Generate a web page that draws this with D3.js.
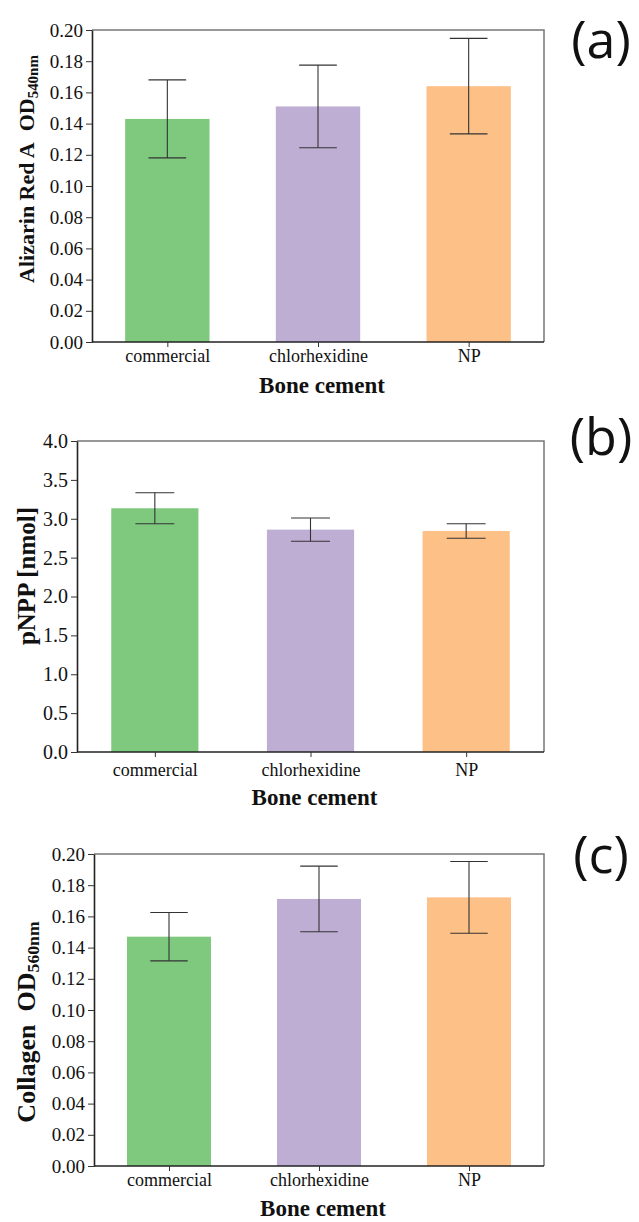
<!DOCTYPE html>
<html>
<head>
<meta charset="utf-8">
<script src="https://cdn.jsdelivr.net/npm/d3@7"></script>
<style>
  body { margin: 0; background: #fff; }
  svg { display: block; }
  .tick text { font-family: "Liberation Serif", "Times New Roman", serif; fill: #111; }
</style>
</head>
<body>
<div id="chart"></div>
<script>
const categories = ["commercial", "chlorhexidine", "NP"];

// (a) Alizarin Red A, OD540nm
const alizarinMean = [0.143, 0.151, 0.164];
const alizarinErr = [0.025, 0.0265, 0.0306];
const alizarinTicks = [0, 0.02, 0.04, 0.06, 0.08, 0.10, 0.12, 0.14, 0.16, 0.18, 0.20];

// (b) pNPP [nmol]
const pnppMean = [3.135, 2.86, 2.843];
const pnppErr = [0.2, 0.15, 0.093];
const pnppTicks = [0, 0.5, 1.0, 1.5, 2.0, 2.5, 3.0, 3.5, 4.0];

// (c) Collagen, OD560nm
const collagenMean = [0.147, 0.1712, 0.1722];
const collagenErr = [0.0155, 0.021, 0.023];
const collagenTicks = alizarinTicks;

const barColors = d3.schemeAccent.slice(0, 3);

const WIDTH = 639, HEIGHT = 1222;
const SERIF = '"Liberation Serif", "Times New Roman", serif';

const svg = d3.select("#chart").append("svg")
    .attr("width", WIDTH)
    .attr("height", HEIGHT);

const drawPanel = (p) => {
    const g = svg.append("g").attr("class", "panel");

    const x = d3.scalePoint()
        .domain(categories)
        .range([p.left, p.right])
        .padding(0.5);
    const step = x.step();
    const barW = step * 0.56;
    const capW = step * 0.25;

    const y = d3.scaleLinear()
        .domain([0, p.yMax])
        .range([p.bottom, p.top]);

    const rows = categories.map((c, i) => ({cat: c, mean: p.mean[i], err: p.err[i], color: barColors[i]}));

    // bars
    g.selectAll("rect.bar").data(rows).enter()
        .append("rect")
        .attr("class", "bar")
        .attr("x", d => x(d.cat) - barW / 2)
        .attr("width", barW)
        .attr("y", d => y(d.mean))
        .attr("height", d => y(0) - y(d.mean))
        .attr("fill", d => d.color);

    // error bars
    const eb = g.selectAll("g.err").data(rows).enter()
        .append("g")
        .attr("class", "err")
        .attr("stroke", "#333")
        .attr("stroke-width", 1.1);
    eb.append("line")
        .attr("x1", d => x(d.cat)).attr("x2", d => x(d.cat))
        .attr("y1", d => y(d.mean - d.err)).attr("y2", d => y(d.mean + d.err));
    eb.append("line")
        .attr("x1", d => x(d.cat) - capW / 2).attr("x2", d => x(d.cat) + capW / 2)
        .attr("y1", d => y(d.mean + d.err)).attr("y2", d => y(d.mean + d.err));
    eb.append("line")
        .attr("x1", d => x(d.cat) - capW / 2).attr("x2", d => x(d.cat) + capW / 2)
        .attr("y1", d => y(d.mean - d.err)).attr("y2", d => y(d.mean - d.err));

    // top & right spines (lighter)
    g.append("path")
        .attr("d", `M${p.left},${p.top}H${p.right}V${p.bottom}`)
        .attr("fill", "none")
        .attr("stroke", "#777")
        .attr("stroke-width", 1.5);

    // y axis
    const yAxis = d3.axisLeft(y)
        .tickValues(p.ticks)
        .tickFormat(d3.format(p.fmt))
        .tickSize(6)
        .tickSizeOuter(0)
        .tickPadding(3);
    const gy = g.append("g")
        .attr("transform", `translate(${p.left},0)`)
        .call(yAxis);
    gy.selectAll(".tick text").style("font-size", p.tickFont + "px");
    gy.selectAll(".tick line").attr("stroke", "#333");
    gy.select(".domain").attr("stroke", "#222").attr("stroke-width", 1.6);

    // x axis
    const xFont = 18;
    const xAxis = d3.axisBottom(x)
        .tickSize(5)
        .tickSizeOuter(0)
        .tickPadding(p.xLabelOffset - 5 - 0.71 * xFont);
    const gx = g.append("g")
        .attr("transform", `translate(0,${p.bottom})`)
        .call(xAxis);
    gx.selectAll(".tick text").style("font-size", xFont + "px");
    gx.selectAll(".tick line").attr("stroke", "#333");
    gx.select(".domain")
        .attr("d", `M${p.left},0H${p.right}`)
        .attr("stroke", "#222").attr("stroke-width", 1.6);

    // x title
    g.append("text")
        .attr("x", (p.left + p.right) / 2 + 4)
        .attr("y", p.bottom + p.xTitleOffset)
        .attr("text-anchor", "middle")
        .style("font-family", SERIF)
        .style("font-weight", "bold")
        .style("font-size", "23px")
        .attr("fill", "#111")
        .text("Bone cement");

    // y title
    const yt = g.append("text")
        .attr("transform", `translate(${p.yTitleX},${p.yTitleY}) rotate(-90)`)
        .attr("text-anchor", "middle")
        .style("font-family", SERIF)
        .style("font-weight", "bold")
        .style("font-size", p.yTitleFont + "px")
        .attr("fill", "#111");
    yt.append("tspan").text(p.yTitle);
    if (p.yTitleSub) {
        yt.append("tspan")
            .attr("dy", "0.25em")
            .style("font-size", (p.yTitleFont * 0.68) + "px")
            .text(p.yTitleSub);
    }

    // panel letter
    g.append("text")
        .attr("x", 601)
        .attr("y", p.letterY)
        .attr("text-anchor", "middle")
        .style("font-family", '"Open Sans", "Noto Sans", sans-serif')
        .style("font-size", "52px")
        .attr("fill", "#111")
        .text(p.letter);
};

drawPanel({
    left: 92, right: 544, top: 30, bottom: 342,
    yMax: 0.2, ticks: alizarinTicks, fmt: ".2f", tickFont: 19,
    mean: alizarinMean, err: alizarinErr,
    xLabelOffset: 20, xTitleOffset: 51,
    yTitle: "Alizarin Red A\u00a0\u00a0OD", yTitleSub: "540nm", yTitleFont: 22,
    yTitleX: 34, yTitleY: 169,
    letter: "(a)", letterY: 58
});

drawPanel({
    left: 77, right: 544, top: 441, bottom: 752,
    yMax: 4.0, ticks: pnppTicks, fmt: ".1f", tickFont: 20,
    mean: pnppMean, err: pnppErr,
    xLabelOffset: 24, xTitleOffset: 53,
    yTitle: "pNPP [nmol]", yTitleSub: null, yTitleFont: 25,
    yTitleX: 35, yTitleY: 576,
    letter: "(b)", letterY: 455
});

drawPanel({
    left: 94, right: 544, top: 854, bottom: 1166,
    yMax: 0.2, ticks: collagenTicks, fmt: ".2f", tickFont: 19,
    mean: collagenMean, err: collagenErr,
    xLabelOffset: 20, xTitleOffset: 50,
    yTitle: "Collagen\u00a0\u00a0OD", yTitleSub: "560nm", yTitleFont: 26,
    yTitleX: 35, yTitleY: 1022,
    letter: "(c)", letterY: 873
});
</script>
</body>
</html>
